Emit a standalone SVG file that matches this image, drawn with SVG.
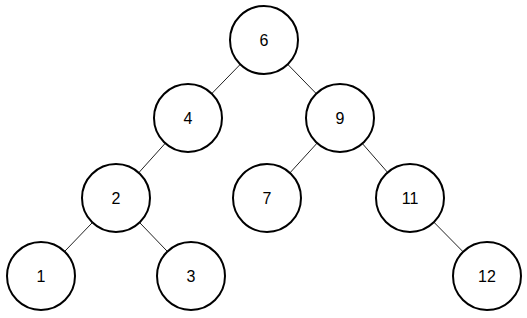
<svg xmlns="http://www.w3.org/2000/svg" width="527" height="318" viewBox="0 0 527 318">
<style>
.n circle{fill:#fff;stroke:#000;stroke-width:2}
.n text{font-family:"Liberation Sans",Arial,sans-serif;font-size:16px;fill:#000;text-anchor:middle;dominant-baseline:central}
.e line{stroke:#222;stroke-width:1}
</style>
<rect width="527" height="318" fill="#fff"/>
<g id="connectors" class="e">
<line x1="264" y1="40" x2="188" y2="118"/>
<line x1="264" y1="40" x2="340" y2="118"/>
<line x1="188" y1="118" x2="116" y2="198"/>
<line x1="340" y1="118" x2="267" y2="198"/>
<line x1="340" y1="118" x2="410" y2="198"/>
<line x1="116" y1="198" x2="41" y2="276"/>
<line x1="116" y1="198" x2="191" y2="276"/>
<line x1="410" y1="198" x2="487" y2="276"/>
</g>
<g id="n6" class="n"><circle cx="264" cy="40" r="34"/><text x="264" y="40">6</text></g>
<g id="n4" class="n"><circle cx="188" cy="118" r="34"/><text x="188" y="118">4</text></g>
<g id="n9" class="n"><circle cx="340" cy="118" r="34"/><text x="340" y="118">9</text></g>
<g id="n2" class="n"><circle cx="116" cy="198" r="34"/><text x="116" y="198">2</text></g>
<g id="n7" class="n"><circle cx="267" cy="198" r="34"/><text x="267" y="198">7</text></g>
<g id="n11" class="n"><circle cx="410" cy="198" r="34"/><text x="410" y="198">11</text></g>
<g id="n1" class="n"><circle cx="41" cy="276" r="34"/><text x="41" y="276">1</text></g>
<g id="n3" class="n"><circle cx="191" cy="276" r="34"/><text x="191" y="276">3</text></g>
<g id="n12" class="n"><circle cx="487" cy="276" r="34"/><text x="487" y="276">12</text></g>
</svg>
